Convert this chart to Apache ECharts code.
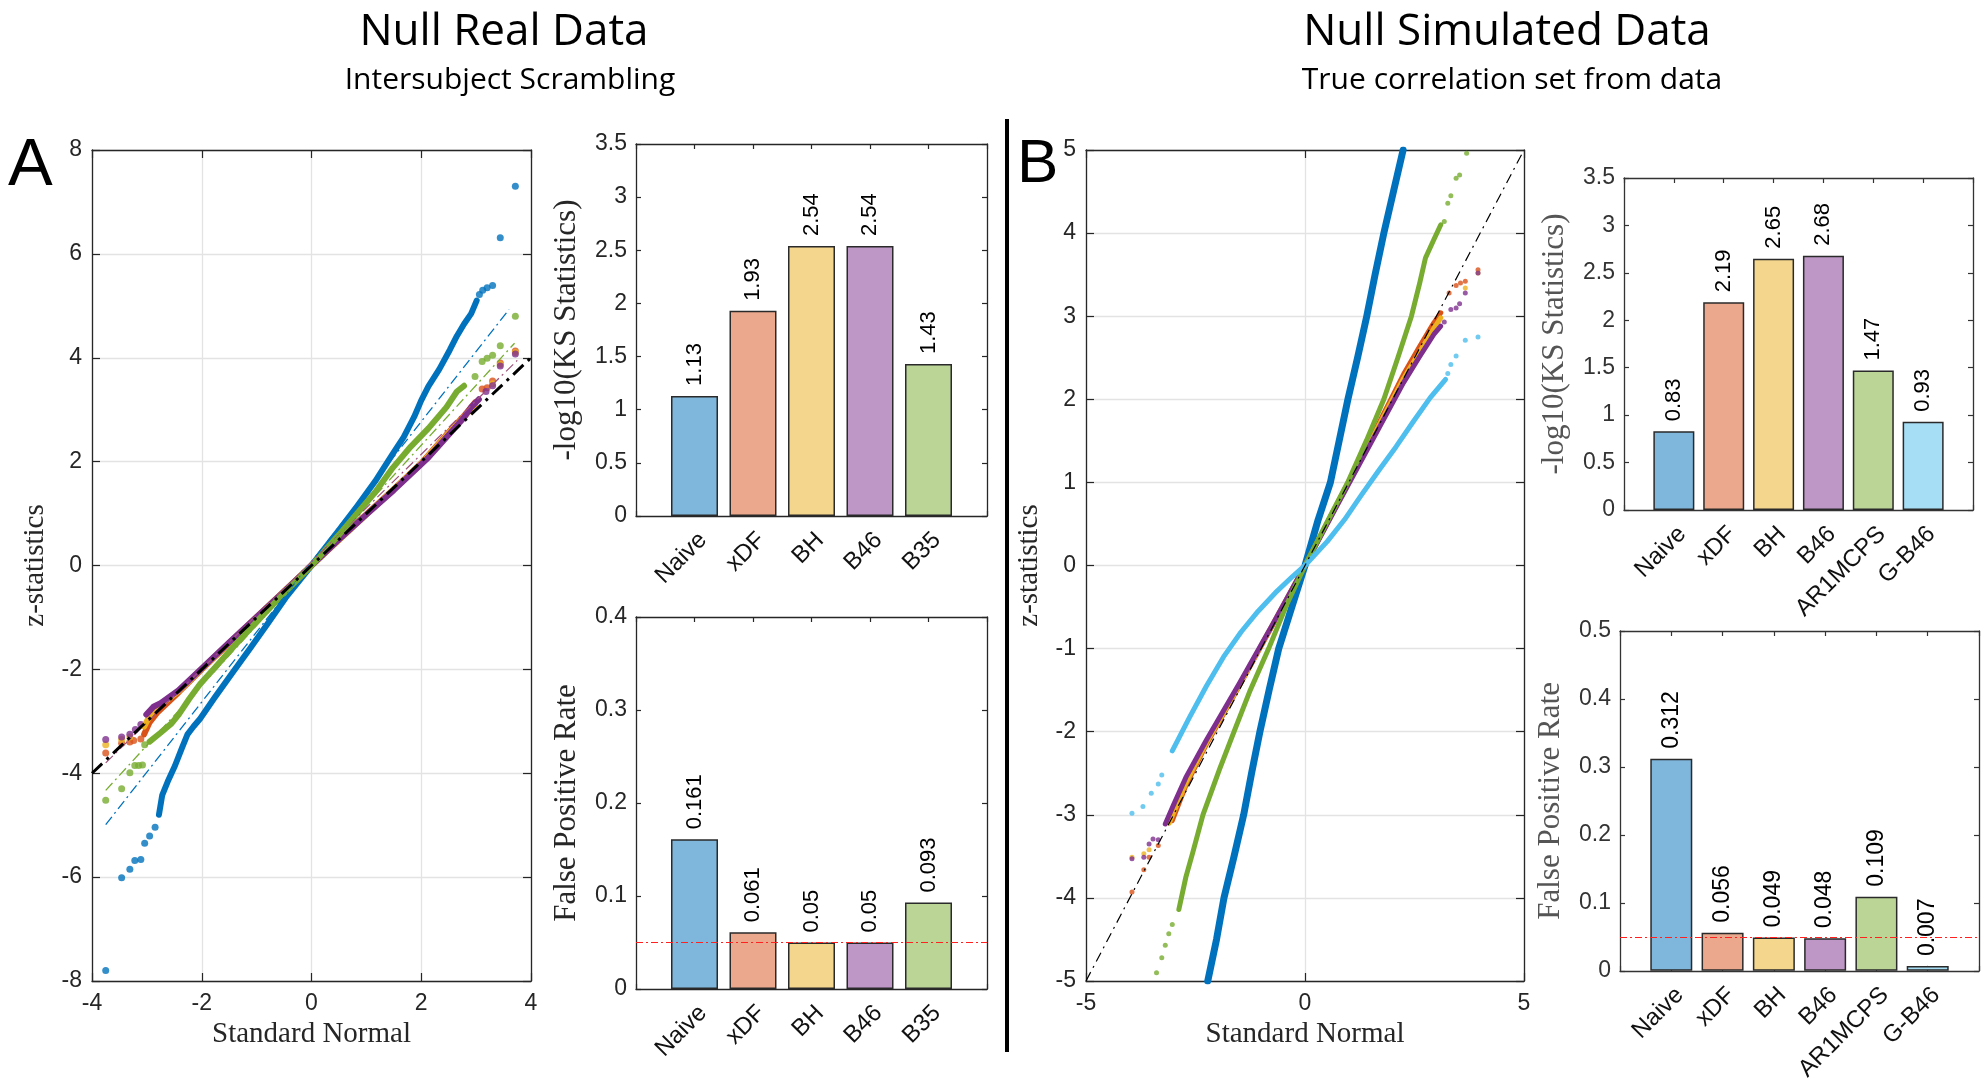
<!DOCTYPE html>
<html><head><meta charset="utf-8">
<script src="https://cdn.jsdelivr.net/npm/echarts/dist/echarts.min.js"></script>
<style>html,body{margin:0;padding:0;background:#fff}#c{width:1982px;height:1084px}</style>
</head><body><div id="c"></div>
<script>
// ---------------- DATA ----------------
// Panel A: Null Real Data (QQ: [standard normal quantile, z-statistic])
const realNaiveLine = [[-2.78,-4.80],[-2.72,-4.42],[-2.62,-4.16],[-2.49,-3.86],[-2.36,-3.51],[-2.26,-3.25],[-2.15,-3.10],[-2.03,-2.95],[-1.77,-2.55],[-1.45,-2.08],[-1.12,-1.60],[-0.80,-1.12],[-0.47,-0.62],[0,0],[0.5,0.68],[0.83,1.14],[1.16,1.62],[1.48,2.15],[1.68,2.47],[1.87,2.86],[2.0,3.18],[2.13,3.45],[2.33,3.78],[2.52,4.15],[2.65,4.42],[2.78,4.65],[2.91,4.85],[3.01,5.10]];
const realNaiveTail = [[3.715,7.30],[3.44,6.31],[3.30,5.39],[3.20,5.35],[3.12,5.30],[3.06,5.22],[-3.75,-7.80],[-3.46,-6.01],[-3.31,-5.85],[-3.22,-5.68],[-3.11,-5.66],[-3.04,-5.35],[-2.95,-5.21],[-2.85,-5.04]];
const realXdfLine = [[-3.05,-3.25],[-2.95,-3.02],[-2.8,-2.82],[-2.42,-2.44],[-2.0,-2.0],[-1.5,-1.5],[-1.0,-1.0],[-0.5,-0.5],[0,0],[0.5,0.5],[1.0,0.99],[1.5,1.47],[2.0,1.97],[2.46,2.52],[2.78,2.88],[2.98,3.14]];
const realXdfTail = [[3.715,4.13],[3.44,3.90],[3.30,3.55],[3.20,3.42],[3.11,3.40],[-3.75,-3.61],[-3.46,-3.42],[-3.31,-3.40],[-3.24,-3.37],[-3.11,-3.34]];
const realBhLine = [[-3.05,-3.1],[-2.9,-2.8],[-2.42,-2.42],[-2.0,-1.99],[-1.0,-0.99],[0,0],[1.0,0.98],[2.0,1.96],[2.46,2.5],[2.78,2.86],[2.98,3.1]];
const realBhTail = [[3.715,4.10],[3.44,3.87],[3.30,3.5],[-3.75,-3.45],[-3.46,-3.35],[-3.31,-3.30]];
const realB46Line = [[-3.01,-2.87],[-2.88,-2.72],[-2.75,-2.65],[-2.42,-2.40],[-2.0,-1.98],[-1.5,-1.48],[-1.0,-0.99],[-0.5,-0.5],[0,0],[0.5,0.5],[1.0,0.98],[1.5,1.45],[1.81,1.76],[2.13,2.08],[2.46,2.47],[2.78,2.85],[2.91,3.05],[3.05,3.2]];
const realB46Tail = [[3.715,4.07],[3.44,3.84],[3.30,3.46],[3.18,3.35],[-3.75,-3.35],[-3.46,-3.30],[-3.31,-3.25],[-3.21,-3.16],[-3.11,-3.06]];
const realB35Line = [[-2.95,-3.39],[-2.75,-3.22],[-2.55,-3.04],[-2.42,-2.87],[-2.23,-2.57],[-2.03,-2.28],[-1.77,-1.98],[-1.45,-1.60],[-1.12,-1.22],[-0.80,-0.86],[-0.47,-0.50],[0,0],[0.5,0.59],[0.83,1.0],[1.16,1.41],[1.48,1.88],[1.81,2.29],[2.13,2.64],[2.46,3.05],[2.65,3.35],[2.78,3.46]];
const realB35Tail = [[3.715,4.80],[3.44,4.23],[3.30,4.05],[3.20,3.99],[3.11,3.93],[2.98,3.64],[-3.75,-4.52],[-3.46,-4.30],[-3.31,-3.99],[-3.22,-3.85],[-3.15,-3.85],[-3.08,-3.84],[-3.04,-3.45]];
const realRefNaive = [[-3.75,-4.99],[3.6,4.93]];
const realRefB35 = [[-3.75,-4.33],[3.7,4.28]];
const realRefB46 = [[-3.75,-3.8],[3.75,3.95]];
const realRefIdentity = [[-4,-4],[4,4]];

// Panel B: Null Simulated Data
const simNaiveLine = [[-2.22,-5.0],[-2.02,-4.5],[-1.85,-4.0],[-1.62,-3.5],[-1.40,-3.0],[-1.22,-2.5],[-1.03,-2.0],[-0.82,-1.5],[-0.60,-1.0],[-0.30,-0.5],[0,0],[0.30,0.55],[0.58,1.0],[0.78,1.5],[0.98,2.0],[1.2,2.5],[1.41,3.0],[1.6,3.5],[1.8,4.0],[2.02,4.5],[2.24,5.0]];
const simXdfLine = [[-3.03,-3.07],[-2.72,-2.65],[-2.25,-2.15],[-1.5,-1.45],[-0.75,-0.73],[0,0],[0.75,0.76],[1.5,1.52],[2.25,2.3],[2.6,2.62],[2.94,2.92],[3.1,3.04]];
const simXdfTail = [[3.29,3.28],[3.45,3.37],[3.55,3.40],[3.66,3.42],[3.95,3.56],[-3.35,-3.37],[-3.56,-3.51],[-3.68,-3.66],[-3.95,-3.93]];
const simBhLine = [[-3.1,-3.1],[-2.72,-2.62],[-2.25,-2.13],[-1.5,-1.44],[0,0],[1.5,1.5],[2.25,2.25],[2.94,2.85],[3.1,2.98]];
const simBhTail = [[3.66,3.34],[3.95,3.52],[-3.95,-3.51],[-3.68,-3.47],[-3.56,-3.42]];
const simB46Line = [[-3.19,-3.11],[-3.0,-2.88],[-2.72,-2.55],[-2.25,-2.1],[-1.5,-1.42],[-0.75,-0.72],[0,0],[0.75,0.74],[1.5,1.47],[2.25,2.2],[2.6,2.5],[2.94,2.78],[3.1,2.88]];
const simB46Tail = [[3.18,2.93],[3.33,3.08],[3.45,3.10],[3.53,3.15],[3.66,3.28],[3.95,3.52],[-3.35,-3.30],[-3.47,-3.29],[-3.56,-3.35],[-3.68,-3.51],[-3.95,-3.53]];
const simAr1Line = [[-2.88,-4.14],[-2.72,-3.75],[-2.56,-3.45],[-2.33,-3.0],[-1.95,-2.45],[-1.62,-2.0],[-1.25,-1.5],[-0.83,-1.0],[-0.4,-0.45],[0,0],[0.5,0.52],[0.975,1.0],[1.4,1.5],[1.8,2.0],[2.12,2.5],[2.43,3.0],[2.62,3.4],[2.75,3.7],[2.94,3.92],[3.1,4.1]];
const simAr1Tail = [[3.18,4.14],[3.26,4.36],[3.33,4.45],[3.45,4.66],[3.53,4.70],[3.69,4.96],[-3.03,-4.32],[-3.11,-4.43],[-3.19,-4.57],[-3.27,-4.72],[-3.39,-4.90]];
const simGB46Line = [[-3.03,-2.23],[-2.64,-1.83],[-2.25,-1.45],[-1.86,-1.10],[-1.46,-0.80],[-1.07,-0.55],[-0.68,-0.33],[-0.28,-0.13],[0,0],[0.51,0.29],[0.90,0.55],[1.29,0.85],[1.68,1.14],[2.08,1.43],[2.47,1.73],[2.86,2.02],[3.21,2.24]];
const simGB46Tail = [[-3.27,-2.52],[-3.35,-2.63],[-3.51,-2.74],[-3.70,-2.90],[-3.95,-2.98],[3.26,2.31],[3.33,2.42],[3.45,2.52],[3.66,2.71],[3.95,2.75]];
const simRefIdentity = [[-5,-5],[5,5]];

// Bar charts
const catsA = ['Naive','xDF','BH','B46','B35'];
const ksA = [1.13,1.93,2.54,2.54,1.43];
const fprA = [0.161,0.061,0.05,0.05,0.093];
const catsB = ['Naive','xDF','BH','B46','AR1MCPS','G-B46'];
const ksB = [0.83,2.19,2.65,2.68,1.47,0.93];
const fprB = [0.312,0.056,0.049,0.048,0.109,0.007];
const alphaLevel = [0.05];

// Ticks / ranges
const qqATicks = {xmin:-4,xmax:4,xint:2,ymin:-8,ymax:8,yint:2};
const qqBTicks = {xmin:-5,xmax:5,xint:5,ymin:-5,ymax:5,yint:1};

// ---------------- STYLE ----------------
const C = {blue:'#0072BD',orange:'#D95319',yellow:'#EDB120',purple:'#7E2F8E',green:'#77AC30',lblue:'#4DBEEE'};
const barCol = ['#7eb6dc','#eba88c','#f4d78d','#be97c6','#bbd596','#a6def5'];
const SANS = 'Liberation Sans, Arial, sans-serif';
const SERIF = 'Liberation Serif, Times New Roman, serif';
const AX = '#262626';

const grids = [
  {left:92, top:150, width:439, height:831},   // 0 QQ A
  {left:636, top:144, width:351, height:372},  // 1 KS A
  {left:636, top:617, width:351, height:372},  // 2 FPR A
  {left:1086, top:150, width:438, height:831}, // 3 QQ B
  {left:1624, top:178, width:349, height:332}, // 4 KS B
  {left:1620, top:631, width:359, height:342}  // 5 FPR B
];

const xAxes = [], yAxes = [];
function qqAxes(g, t, yGap) {
  const line = {show:true, onZero:false, lineStyle:{color:AX, width:1.3}};
  const tick = {show:true, inside:true, length:8, lineStyle:{color:AX, width:1.2}};
  xAxes.push({type:'value', gridIndex:g, min:t.xmin, max:t.xmax, interval:t.xint, position:'bottom',
    axisLine:line, axisTick:tick,
    axisLabel:{color:AX, fontSize:23, fontFamily:SANS, margin:11},
    splitLine:{show:true, lineStyle:{color:'#e3e3e3', width:1.3}},
    name:'Standard Normal', nameLocation:'middle', nameGap:38,
    nameTextStyle:{fontFamily:SERIF, fontSize:29, color:AX}});
  xAxes.push({type:'value', gridIndex:g, min:t.xmin, max:t.xmax, interval:t.xint, position:'top',
    axisLine:line, axisTick:tick, axisLabel:{show:false}, splitLine:{show:false}});
  yAxes.push({type:'value', gridIndex:g, min:t.ymin, max:t.ymax, interval:t.yint, position:'left',
    axisLine:line, axisTick:tick,
    axisLabel:{color:AX, fontSize:23, fontFamily:SANS, margin:10},
    splitLine:{show:true, lineStyle:{color:'#e3e3e3', width:1.3}},
    name:'z-statistics', nameLocation:'middle', nameGap:yGap,
    nameTextStyle:{fontFamily:SERIF, fontSize:29, color:AX}});
  yAxes.push({type:'value', gridIndex:g, min:t.ymin, max:t.ymax, interval:t.yint, position:'right',
    axisLine:line, axisTick:tick, axisLabel:{show:false}, splitLine:{show:false}});
}
function barAxes(g, cats, ymax, yint, yname, col, nameCol) {
  const line = {show:true, onZero:false, lineStyle:{color:col, width:1.3}};
  const tick = {show:true, inside:true, length:5, lineStyle:{color:col, width:1.2}};
  xAxes.push({type:'value', gridIndex:g, min:0, max:cats.length+1, interval:1, position:'bottom',
    axisLine:line, axisTick:tick,
    axisLabel:{color:'#111', fontSize:24, fontFamily:SANS, rotate:45, margin:12,
      align:'right', verticalAlign:'top',
      formatter:v => cats[v-1] || ''},
    splitLine:{show:false}});
  xAxes.push({type:'value', gridIndex:g, min:0, max:cats.length+1, interval:1, position:'top',
    axisLine:line, axisTick:tick, axisLabel:{show:false}, splitLine:{show:false}});
  yAxes.push({type:'value', gridIndex:g, min:0, max:ymax, interval:yint, position:'left',
    axisLine:line, axisTick:tick,
    axisLabel:{color:col, fontSize:23, fontFamily:SANS, margin:9},
    splitLine:{show:false},
    name:yname, nameLocation:'middle', nameGap:54,
    nameTextStyle:{fontFamily:SERIF, fontSize:31, color:nameCol}});
  yAxes.push({type:'value', gridIndex:g, min:0, max:ymax, interval:yint, position:'right',
    axisLine:line, axisTick:tick, axisLabel:{show:false}, splitLine:{show:false}});
}
qqAxes(0, qqATicks, 42);
barAxes(1, catsA, 3.5, 0.5, '-log10(KS Statistics)', AX, AX);
barAxes(2, catsA, 0.4, 0.1, 'False Positive Rate', AX, AX);
qqAxes(3, qqBTicks, 42);
barAxes(4, catsB, 3.5, 0.5, '-log10(KS Statistics)', '#333', '#555');
barAxes(5, catsB, 0.5, 0.1, 'False Positive Rate', '#333', '#555');

const series = [];
function dense(data, color, g, w) {
  series.push({type:'line', xAxisIndex:2*g, yAxisIndex:2*g, data, symbol:'none', showSymbol:false,
    lineStyle:{color, width:w, cap:'round', join:'round'}, silent:true});
}
function dots(data, color, g, s) {
  series.push({type:'scatter', xAxisIndex:2*g, yAxisIndex:2*g, data, symbolSize:s,
    itemStyle:{color}, silent:true});
}
function ref(data, color, g, w, dash) {
  series.push({type:'line', xAxisIndex:2*g, yAxisIndex:2*g, data, symbol:'none', showSymbol:false,
    lineStyle:{color, width:w, type:dash}, silent:true, z:5});
}
// Panel A QQ
dense(realNaiveLine, C.blue, 0, 6); dots(realNaiveTail, C.blue, 0, 7);
ref(realRefNaive, C.blue, 0, 1.3, [10,4,2,4]);
dense(realXdfLine, C.orange, 0, 6); dots(realXdfTail, C.orange, 0, 7);
dense(realBhLine, C.yellow, 0, 6); dots(realBhTail, C.yellow, 0, 7);
dense(realB46Line, C.purple, 0, 6); dots(realB46Tail, C.purple, 0, 7);
ref(realRefB46, '#a0527a', 0, 1.2, [10,4,2,4]);
dense(realB35Line, C.green, 0, 6); dots(realB35Tail, C.green, 0, 7);
ref(realRefB35, C.green, 0, 1.3, [10,4,2,4]);
ref(realRefIdentity, '#000', 0, 3, [14,6,3,6]);
// Panel B QQ
ref(simRefIdentity, '#000', 3, 1.2, [10,5,2,5]);
dense(simNaiveLine, C.blue, 3, 7);
dense(simXdfLine, C.orange, 3, 5); dots(simXdfTail, C.orange, 3, 5);
dense(simBhLine, C.yellow, 3, 5); dots(simBhTail, C.yellow, 3, 5);
dense(simB46Line, C.purple, 3, 5); dots(simB46Tail, C.purple, 3, 5);
dense(simAr1Line, C.green, 3, 5); dots(simAr1Tail, C.green, 3, 5);
dense(simGB46Line, C.lblue, 3, 5); dots(simGB46Tail, C.lblue, 3, 5);

function bars(g, vals, w, withAlpha, fs) {
  const s = {type:'bar', xAxisIndex:2*g, yAxisIndex:2*g, barWidth:w, silent:true,
    data: vals.map((v,i) => ({value:[i+1, v], itemStyle:{color:barCol[i]}})),
    itemStyle:{borderColor:'#2a2a2a', borderWidth:1.5},
    label:{show:true, position:'top', rotate:90, align:'left', verticalAlign:'middle', distance:10,
      fontSize:fs, fontFamily:SANS, color:'#000', formatter:p => String(p.value[1])}};
  if (withAlpha) s.markLine = {silent:true, symbol:'none', label:{show:false},
    lineStyle:{color:'#ff2020', width:1.2, type:[7,3,2,3]},
    data: alphaLevel.map(a => ({yAxis:a}))};
  series.push(s);
}
bars(1, ksA, 47, false, 22);
bars(2, fprA, 47, true, 22);
bars(4, ksB, 41, false, 22);
bars(5, fprB, 42, true, 23);

const graphic = [
  {type:'text', x:504, y:32, style:{text:'Null Real Data', font:'44px "Open Sans"', fill:'#000', align:'center', verticalAlign:'middle'}},
  {type:'text', x:510, y:80, style:{text:'Intersubject Scrambling', font:'30px "Open Sans"', fill:'#000', align:'center', verticalAlign:'middle'}},
  {type:'text', x:1507, y:32, style:{text:'Null Simulated Data', font:'44px "Open Sans"', fill:'#000', align:'center', verticalAlign:'middle'}},
  {type:'text', x:1512, y:80, style:{text:'True correlation set from data', font:'30px "Open Sans"', fill:'#000', align:'center', verticalAlign:'middle'}},
  {type:'text', x:8, y:167, style:{text:'A', font:'67px "Liberation Sans"', fill:'#000', align:'left', verticalAlign:'middle'}},
  {type:'text', x:1017, y:165, style:{text:'B', font:'62px "Liberation Sans"', fill:'#000', align:'left', verticalAlign:'middle'}},
  {type:'line', shape:{x1:1007, y1:119, x2:1007, y2:1052}, style:{stroke:'#000', lineWidth:4}}
];

const chart = echarts.init(document.getElementById('c'), null, {renderer:'canvas'});
chart.setOption({animation:false, backgroundColor:'#fff', grid:grids, xAxis:xAxes, yAxis:yAxes, series, graphic});
</script></body></html>
